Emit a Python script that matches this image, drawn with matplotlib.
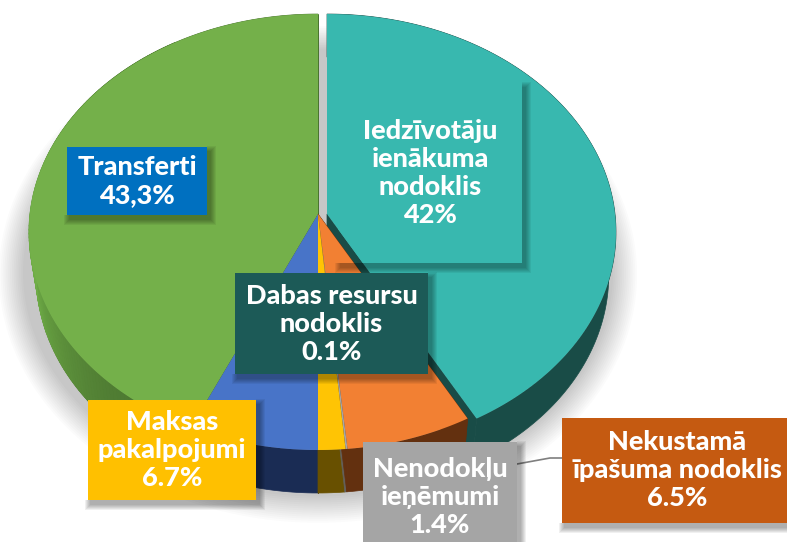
import numpy as np
import matplotlib
matplotlib.use("Agg")
import matplotlib.pyplot as plt
from matplotlib.colors import to_rgb
from matplotlib.patches import Polygon, Rectangle

# wedge values, clockwise from the top
wedge_values = [42.0, 6.5, 0.1, 1.4, 6.7, 43.3]
wedge_colors = ["#38b8af", "#f28033", "#a5a5a5", "#ffc404", "#4874c8", "#74b04a"]
side_colors = ["#194c47", "#63300f", "#63605a", "#685000", "#1a2c54", "#4b7530"]
wedge_shift = [9, 0, 0, 0, 0, 0]

# label boxes, the last two run off the picture
label_texts = ["Transferti\n43,3%", "Iedzīvotāju\nienākuma\nnodoklis\n42%",
               "Dabas resursu\nnodoklis\n0.1%", "Maksas\npakalpojumi\n6.7%",
               "Nenodokļu\nieņēmumi\n1.4%", "Nekustamā\nīpašuma nodoklis\n6.5%"]
label_boxes = [(67, 147, 207, 215), (338, 83, 522, 263), (235, 273, 428, 374),
               (88, 400, 256, 500), (363, 442, 517, 552), (562, 418, 792, 523)]
label_colors = ["#0070c0", "#38b8af", "#1c5a57", "#ffc000", "#a5a5a5", "#c55a11"]

W, H = 787, 542
CX, CY = 318, 214
RX, RY = 288, 216.5
K = 0.0826
DEPTH = 43
BOTTOM_SCALE = 0.975


def project(deg):
    """Clockwise angle from the top of the pie to picture coordinates."""
    a = np.radians(deg)
    u, v = np.sin(a), np.cos(a)
    s = 1.0 / (1.0 + K * v)
    return CX + RX * u * s, CY - RY * v * s


def rim(a0, a1):
    n = max(2, int(abs(a1 - a0)) + 2)
    return project(np.linspace(a0, a1, n))


def lower(x, y, shift):
    # same points on the bottom of the pie, a little further from the viewer
    return CX + shift + (x - CX - shift) * BOTTOM_SCALE, y + DEPTH


def box_shadow(ax, x0, y0, x1, y1, z):
    # layered L shapes stand in for a blurred shadow to the lower right
    for g in range(6, 0, -1):
        pts = [(x1, y0 + 5 - g), (x1 + 3 + g, y0 + 5 - g), (x1 + 3 + g, y1 + 4 + g),
               (x0 + 3 - g, y1 + 4 + g), (x0 + 3 - g, y1), (x1, y1)]
        ax.add_patch(Polygon(pts, fc="black", ec="none", alpha=0.06, zorder=z))


fig = plt.figure(figsize=(W / 100, H / 100), dpi=100)
ax = fig.add_axes([0, 0, 1, 1])
ax.set_xlim(0, W)
ax.set_ylim(H, 0)
ax.axis("off")

# soft grey shadow behind the pie
xs, ys = rim(0, 360)
for grow in np.linspace(30, 6, 14):
    sx = CX + (xs - CX) * (1 + grow / 288)
    sy = CY + 40 + (ys - CY) * (1 + grow / 216)
    ax.add_patch(Polygon(np.column_stack([sx, sy]), fc="black", ec="none", alpha=0.016, zorder=1))

edges = np.cumsum([0] + wedge_values) * 3.6

# side walls, the pulled out slice first
for i in np.argsort(wedge_shift)[::-1]:
    shift = wedge_shift[i]
    x, y = rim(edges[i], edges[i + 1])
    x = x + shift
    z = 2 + 0.01 * (i > 0)
    bx, by = lower(x, y, shift)
    ox = CX + shift
    # cut faces
    for px, py, qx, qy in [(x[0], y[0], bx[0], by[0]), (x[-1], y[-1], bx[-1], by[-1])]:
        ax.add_patch(Polygon([(ox, CY), (px, py), (qx, qy), (ox, CY + DEPTH)],
                             fc=side_colors[i], ec=side_colors[i], lw=0.5, zorder=z))
    # curved wall
    ax.add_patch(Polygon(np.column_stack([np.concatenate([x, bx[::-1]]),
                                          np.concatenate([y, by[::-1]])]),
                         fc=side_colors[i], ec=side_colors[i], lw=0.5, zorder=z))
    # lighter towards the far left
    base = np.array(to_rgb(side_colors[i]))
    for j in range(len(x) - 1):
        u = np.sin(np.radians(edges[i] + (edges[i + 1] - edges[i]) * (j + 0.5) / (len(x) - 1)))
        gain = 0.5 * max(0, -u) ** 5
        if gain > 0.02:
            col = np.clip(base * (1 + gain), 0, 1)
            ax.add_patch(Polygon([(x[j], y[j]), (x[j + 1], y[j + 1]), (bx[j + 1], by[j + 1]), (bx[j], by[j])],
                                 fc=col, ec=col, lw=0.6, zorder=z))

# top faces
tops = []
for i in range(len(wedge_values)):
    x, y = rim(edges[i], edges[i + 1])
    ox = CX + wedge_shift[i]
    tops.append(ax.add_patch(Polygon(np.column_stack([np.concatenate([[ox], x + wedge_shift[i]]),
                                                      np.concatenate([[CY], y])]),
                                     fc=wedge_colors[i], ec="none", zorder=3 + 0.1 * (i == 0))))

# leader line of the property tax label
ax.plot([517, 550, 562], [464, 458, 458], color="#7f7f7f", lw=1.2, zorder=4)

for text, box, color in zip(label_texts, label_boxes, label_colors):
    x0, y0, x1, y1 = box
    box_shadow(ax, x0, y0, x1, y1, 5)
    patch = ax.add_patch(Rectangle((x0, y0), x1 - x0, y1 - y0, fc=color, ec="none", zorder=5.1))
    if text.startswith("Iedz"):
        # this box melts into its own slice and never covers the neighbours
        patch.set_clip_path(tops[0])
    ax.text((x0 + x1) / 2, (y0 + y1) / 2, text, color="white", fontsize=19.5, family="Lato",
            fontweight=900, ha="center", va="center", linespacing=1.2, zorder=6)

fig.savefig("out.png", dpi=100)
